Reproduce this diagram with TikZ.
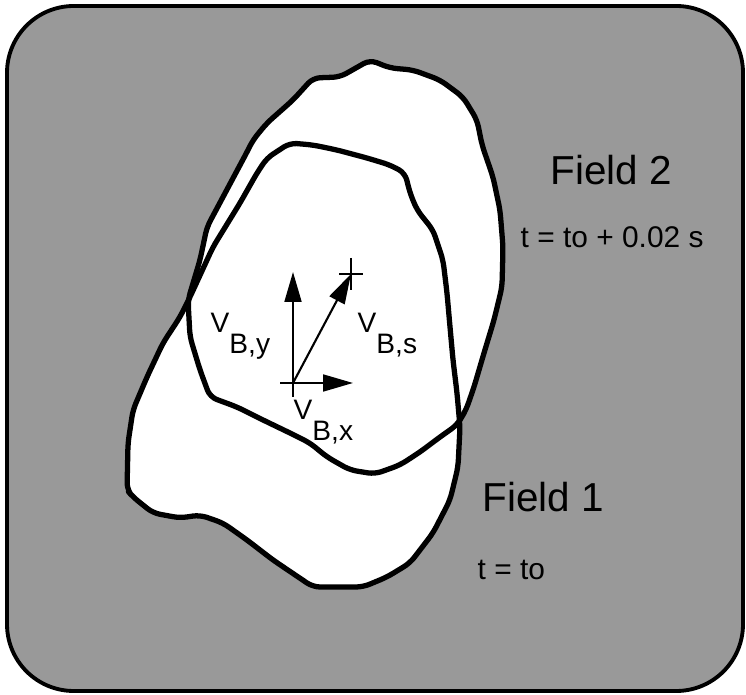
\documentclass[tikz,border=0pt]{standalone}
\usepackage{fontspec}
\setmainfont{Liberation Sans}
\usetikzlibrary{arrows.meta}
\definecolor{DitherClr}{gray}{0.6}

\def\fieldone{(290,143) -- (313,145) -- (337,150) -- (367,158) -- (390,165) -- (405,173)
  -- (410,193) -- (417,210) -- (433,230) -- (443,260) -- (447,293) -- (450,327)
  -- (453,360) -- (457,393) -- (460,427) -- (458,467) -- (450,500) -- (433,533)
  -- (410,563) -- (387,577) -- (363,587) -- (313,587) -- (273,560) -- (247,540)
  -- (223,523) -- (200,515) -- (180,518) -- (153,513) -- (133,497) -- (127,490)
  -- (128,443) -- (133,410) -- (147,377) -- (163,343) -- (180,317) -- (190,297)
  -- (213,247) -- (240,203) -- (257,173) -- (267,158) -- cycle}
\def\fieldtwo{(370,60) -- (390,68) -- (413,70) -- (440,80) -- (463,97) -- (477,120)
  -- (482,145) -- (493,177) -- (500,210) -- (503,247) -- (502,287) -- (494,320)
  -- (484,353) -- (474,387) -- (466,410) -- (457,425) -- (440,437) -- (420,452)
  -- (400,465) -- (375,474) -- (350,470) -- (327,457) -- (310,443) -- (290,433)
  -- (263,420) -- (237,407) -- (210,397) -- (200,370) -- (190,337) -- (188,300)
  -- (200,260) -- (207,227) -- (247,152) -- (253,140) -- (267,123) -- (293,100)
  -- (313,78) -- (340,77) -- cycle}

\begin{document}
\begin{tikzpicture}[x=.01cm,y=-.01cm,
  field/.style={line width=1.5pt,line join=round,rounded corners=2pt},
  vec/.style={line width=.6pt,-{Triangle[length=8.5pt,width=4.8pt]}},
  tick/.style={line width=.6pt},
  fieldlbl/.style={inner sep=0pt,anchor=base west,font=\fontsize{11.5}{14}\selectfont},
  timelbl/.style={inner sep=0pt,anchor=base west,font=\fontsize{8.5}{10}\selectfont},
  veclbl/.style={inner sep=0pt,anchor=base west,font=\fontsize{8}{10}\selectfont}]
\useasboundingbox (0,0) rectangle (746,695);

\draw[line width=1.1pt,fill=DitherClr,rounded corners=19pt] (7,6) rectangle (743,691);

\fill[white] \fieldone;
\fill[white] \fieldtwo;
\draw[field] \fieldone;
\draw[field] \fieldtwo;

\coordinate (O) at (293,383);
\coordinate (Ol) at (280,383);
\coordinate (Ob) at (293,397);
\coordinate (Vx) at (353,383);
\coordinate (Vy) at (293,272);
\coordinate (Vs) at (351,274);
\coordinate (Sl) at (339,274);
\coordinate (Sr) at (363,274);
\coordinate (St) at (351,258);
\coordinate (Sb) at (351,290);

\draw[vec] (Ol) -- (Vx);
\draw[vec] (Ob) -- (Vy);
\draw[vec] (O) -- (Vs);
\draw[tick] (Sl) -- (Sr);
\draw[tick] (St) -- (Sb);

\node[veclbl] (vy) at (210,333) {V\raisebox{-5.7pt}{B,y}};
\node[veclbl] (vs) at (357,333) {V\raisebox{-5.7pt}{B,s}};
\node[veclbl] (vx) at (293,420) {V\raisebox{-5.7pt}{B,x}};

\node[fieldlbl] (field2) at (550,185) {Field 2};
\node[timelbl] (time2) at (520,248) {t = to + 0.02 s};
\node[fieldlbl] (field1) at (482,512) {Field 1};
\node[timelbl] (time1) at (477,580) {t = to};
\end{tikzpicture}
\end{document}
